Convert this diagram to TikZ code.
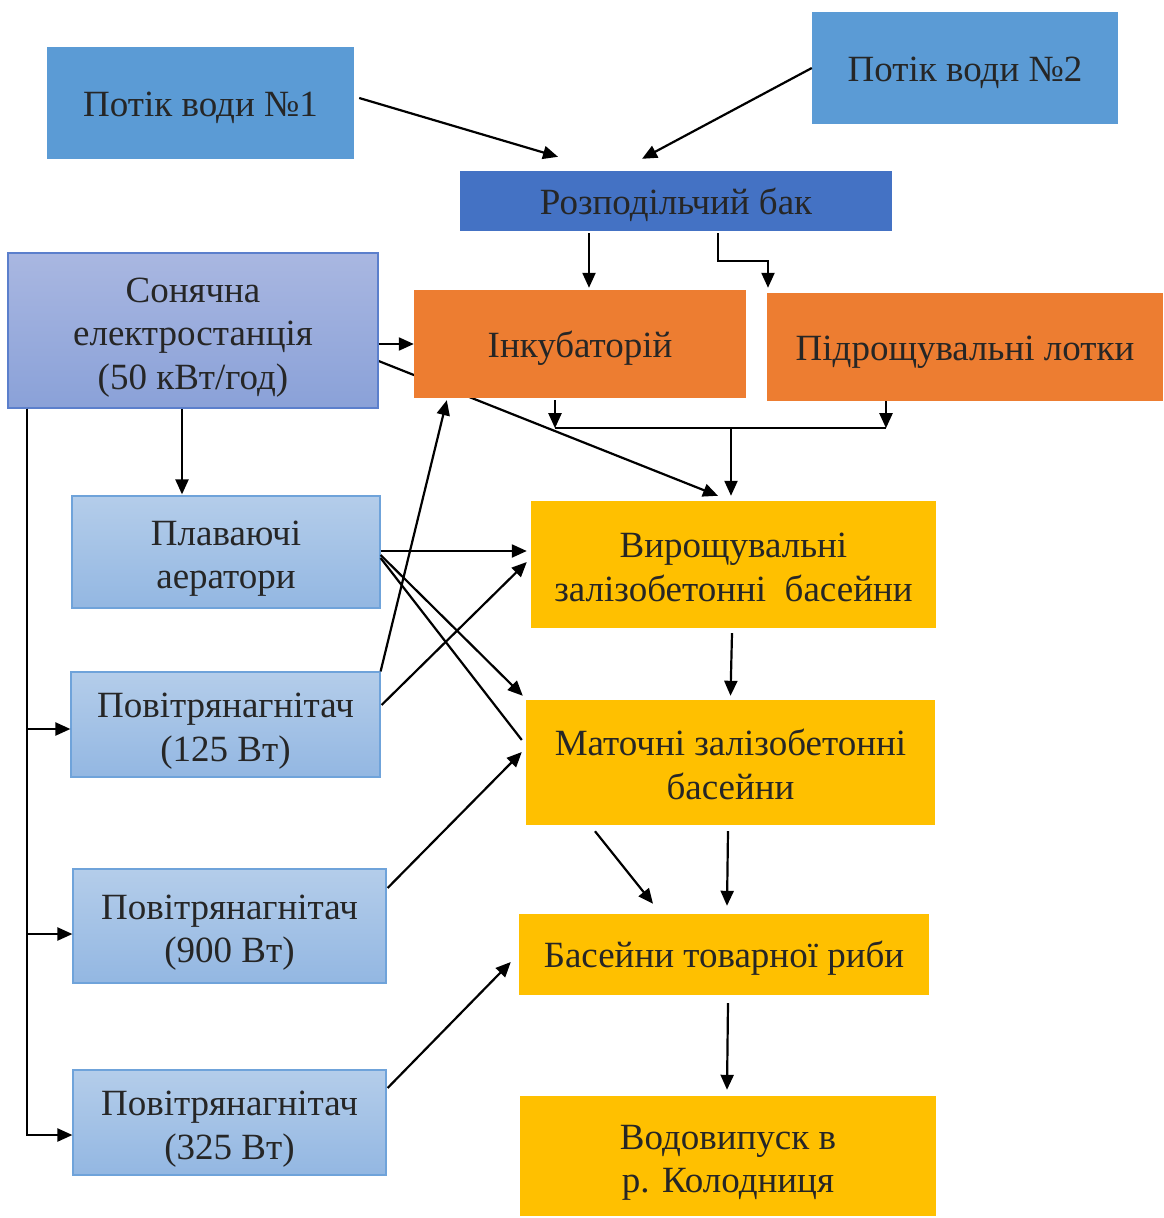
\documentclass[tikz,border=0pt]{standalone}
\usepackage{fontspec}
\setmainfont{Liberation Serif}
\usetikzlibrary{arrows.meta,calc}
\pgfdeclarelayer{background}
\pgfsetlayers{background,main}
\definecolor{txt}{HTML}{262626}
\definecolor{blueA}{HTML}{5B9BD5}
\definecolor{blueB}{HTML}{4472C4}
\definecolor{orangeA}{HTML}{ED7D31}
\definecolor{yellowA}{HTML}{FFC000}
\definecolor{sunTop}{HTML}{A9B7E1}
\definecolor{sunBot}{HTML}{8AA1D8}
\definecolor{sunEdge}{HTML}{5B7FCC}
\definecolor{airTop}{HTML}{B4CDEA}
\definecolor{airBot}{HTML}{93B7E2}
\definecolor{airEdge}{HTML}{6FA3DA}
\tikzset{
  box/.style={rectangle, inner sep=0pt, align=center, text=txt,
    font=\fontsize{37}{43.5}\selectfont},
  lineA/.style={text height=34pt, text depth=8pt},
  lineB/.style={text height=81pt, text depth=8pt},
  lineC/.style={text height=125pt, text depth=8pt},
  arr/.style={line width=2.2pt, -{Triangle[length=15pt,width=13pt]}},
  ln/.style={line width=2.2pt},
  thin/.style={line width=1.6pt},
}
\begin{document}
\begin{tikzpicture}[x=1pt,y=-1pt]
\useasboundingbox (0,0) rectangle (1164,1218);
% nodes
\node[box, lineA, fill=blueA, minimum width=307, minimum height=112] (p1) at (200.5,103) {Потік води №1};
\node[box, lineA, fill=blueA, minimum width=306, minimum height=112] (p2) at (965,68) {Потік води №2};
\node[box, lineA, fill=blueB, minimum width=432, minimum height=60] (rb) at (676,201) {Розподільчий бак};
\node[box, lineC, top color=sunTop, bottom color=sunBot, draw=sunEdge, line width=1.2pt, minimum width=370, minimum height=155] (sun) at (193,330.5) {Сонячна\\електростанція\\(50 кВт/год)};
\node[box, lineA, fill=orangeA, minimum width=332, minimum height=108] (ink) at (580,344) {Інкубаторій};
\node[box, lineA, fill=orangeA, minimum width=396, minimum height=108] (pid) at (965,347) {Підрощувальні лотки};
\node[box, lineB, top color=airTop, bottom color=airBot, draw=airEdge, line width=1.2pt, minimum width=308, minimum height=112] (plav) at (226,552) {Плаваючі\\аератори};
\node[box, lineB, top color=airTop, bottom color=airBot, draw=airEdge, line width=1.2pt, minimum width=309, minimum height=105] (pv1) at (225.5,724.5) {Повітрянагнітач\\(125 Вт)};
\node[box, lineB, top color=airTop, bottom color=airBot, draw=airEdge, line width=1.2pt, minimum width=313, minimum height=114] (pv2) at (229.5,926) {Повітрянагнітач\\(900 Вт)};
\node[box, lineB, top color=airTop, bottom color=airBot, draw=airEdge, line width=1.2pt, minimum width=313, minimum height=105] (pv3) at (229.5,1122.5) {Повітрянагнітач\\(325 Вт)};
\node[box, lineB, fill=yellowA, minimum width=405, minimum height=127] (vyr) at (733.5,564.5) {Вирощувальні\\залізобетонні\ \ басейни};
\node[box, lineB, fill=yellowA, minimum width=409, minimum height=125] (mat) at (730.5,762.5) {Маточні залізобетонні\\басейни};
\node[box, lineA, fill=yellowA, minimum width=410, minimum height=81] (bas) at (724,954.5) {Басейни товарної риби};
\node[box, lineB, fill=yellowA, minimum width=416, minimum height=120] (vod) at (728,1156) {Водовипуск в\\р. Колодниця};
% connectors
\draw[arr] ([xshift=5,yshift=5]p1.east) -- ([xshift=-118,yshift=14]rb.north);
\draw[arr] (p2.west) -- ([xshift=-34,yshift=12]rb.north);
\draw[arr] ([xshift=-87,yshift=-2]rb.south) -- ([xshift=9,yshift=2]ink.north);
\draw[arr] ([xshift=42,yshift=-2]rb.south) -- ++(0,28) -| ([xshift=-197,yshift=5]pid.north);
\draw[arr] ([yshift=-13.5]sun.east) -- ([yshift=0]ink.west);
\begin{pgfonlayer}{background}
\draw[arr] ([yshift=-30.5]sun.east) -- ([xshift=-15.5,yshift=5]vyr.north);
\end{pgfonlayer}
\draw[arr] ([xshift=-25,yshift=-2]ink.south) -- ++(0,28) coordinate (busL);
\draw[arr] ([xshift=-79]pid.south) -- ++(0,27) coordinate (busR);
\draw[thin] (busL) -- (busR);
\coordinate (busM) at (731,428);
\draw[arr] (busM) -- ([xshift=-2.5,yshift=5]vyr.north);
\draw[arr] ([xshift=-11]sun.south) -- ([xshift=-44,yshift=1]plav.north);
\draw[arr] ([xshift=-166]sun.south) |- ([yshift=-12.5]pv3.west);
\draw[arr] ([xshift=-166]sun.south) |- ([yshift=-4.5]pv1.west);
\draw[arr] ([xshift=-166]sun.south) |- ([yshift=-8]pv2.west);
\draw[arr] ([yshift=1]plav.east) -- ([xshift=-4,yshift=13.5]vyr.west);
\draw[arr] ([yshift=-3]plav.east) -- ([xshift=-3,yshift=4]mat.north west);
\draw[ln] ([yshift=-6]plav.east) -- ([xshift=-4,yshift=22.5]mat.west);
\draw[arr] (pv1.north east) -- ([xshift=33,yshift=-2]ink.south west);
\draw[arr] ([xshift=1,yshift=19.5]pv1.east) -- ([xshift=-4,yshift=2.5]vyr.west);
\draw[arr] ([xshift=1,yshift=38]pv2.east) -- ([xshift=-4,yshift=10.5]mat.west);
\draw[arr] ([xshift=1,yshift=34.5]pv3.east) -- ([xshift=-8,yshift=-7.5]bas.west);
\draw[arr] ([xshift=-1.5,yshift=-5]vyr.south) -- ([yshift=4]mat.north);
\draw[arr] ([xshift=-135.5,yshift=-6]mat.south) -- ([xshift=-71,yshift=10]bas.north);
\draw[arr] ([xshift=-2.5,yshift=-6]mat.south) -- ([xshift=3,yshift=8]bas.north);
\draw[arr] ([xshift=4,yshift=-8]bas.south) -- ([xshift=-1,yshift=6]vod.north);
\end{tikzpicture}
\end{document}
